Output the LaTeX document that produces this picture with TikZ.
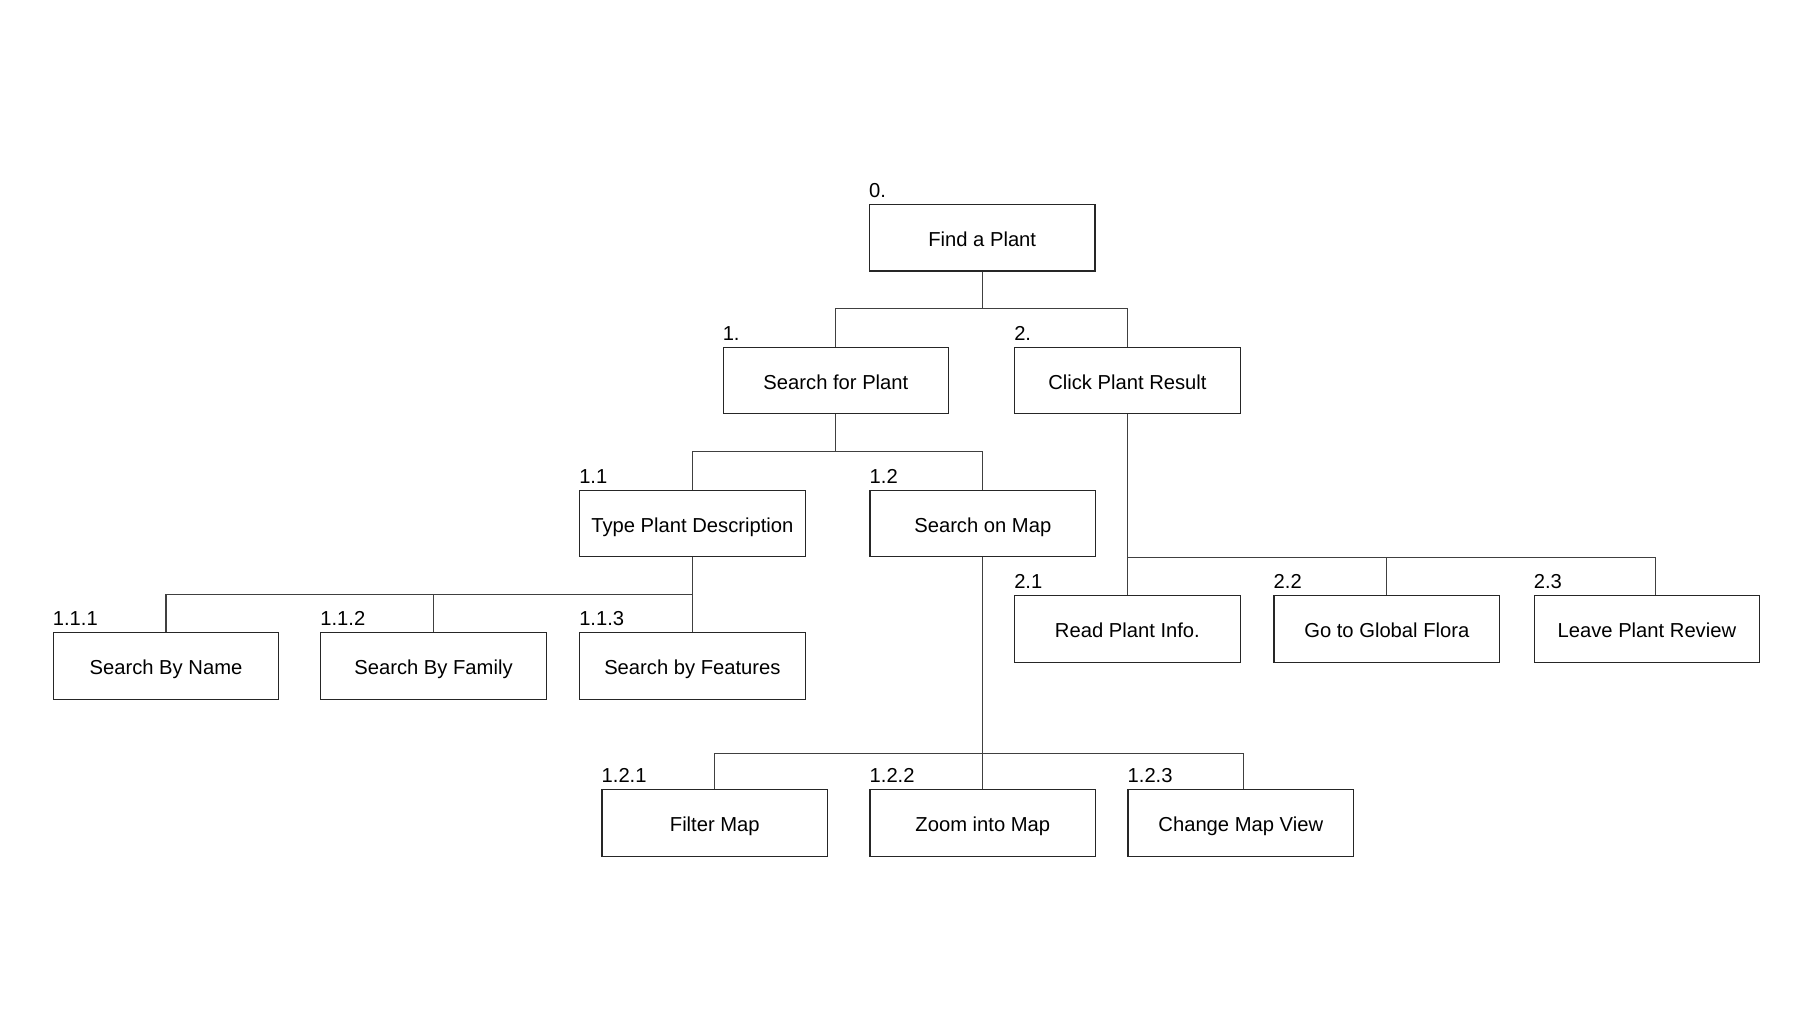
\documentclass[tikz,border=0pt]{standalone}
\usepackage{fontspec}
\setmainfont{Liberation Sans}
\begin{document}
\begin{tikzpicture}[x=1pt,y=-1pt,
  box/.style={draw=black!85, line width=1.1pt, fill=white, minimum width=225.6pt, minimum height=66.5pt, inner sep=0pt, text height=17pt, text depth=0pt, font=\fontsize{20.2}{24}\selectfont, text=black},
  num/.style={anchor=base west, inner sep=0pt, font=\fontsize{20.2}{24}\selectfont, text=black},
  link/.style={draw=black!75, line width=1.1pt}]
\useasboundingbox[fill=white] (0,0) rectangle (1814,1033);
% nodes
\node[box] (n0)   at (982.2,237.7) {Find a Plant};
\node[box] (n1)   at (835.9,380.6) {Search for Plant};
\node[box] (n2)   at (1127.4,380.6) {Click Plant Result};
\node[box] (n11)  at (692.4,523.5) {Type Plant Description};
\node[box] (n12)  at (982.8,523.5) {Search on Map};
\node[box] (n111) at (166.0,665.8) {Search By Name};
\node[box] (n112) at (433.5,665.8) {Search By Family};
\node[box] (n113) at (692.4,665.8) {Search by Features};
\node[box] (n21)  at (1127.4,628.8) {Read Plant Info.};
\node[box] (n22)  at (1386.8,628.8) {Go to Global Flora};
\node[box] (n23)  at (1646.9,628.8) {Leave Plant Review};
\node[box] (n121) at (714.8,823.1) {Filter Map};
\node[box] (n122) at (982.8,823.1) {Zoom into Map};
\node[box] (n123) at (1240.8,823.1) {Change Map View};
% number labels
\node[num] (l0)   at ([yshift=6.5pt]n0.north west)   {0.};
\node[num] (l1)   at ([yshift=6.5pt]n1.north west)   {1.};
\node[num] (l2)   at ([yshift=6.5pt]n2.north west)   {2.};
\node[num] (l11)  at ([yshift=6.5pt]n11.north west)  {1.1};
\node[num] (l12)  at ([yshift=6.5pt]n12.north west)  {1.2};
\node[num] (l111) at ([yshift=6.5pt]n111.north west) {1.1.1};
\node[num] (l112) at ([yshift=6.5pt]n112.north west) {1.1.2};
\node[num] (l113) at ([yshift=6.5pt]n113.north west) {1.1.3};
\node[num] (l21)  at ([yshift=6.5pt]n21.north west)  {2.1};
\node[num] (l22)  at ([yshift=6.5pt]n22.north west)  {2.2};
\node[num] (l23)  at ([yshift=6.5pt]n23.north west)  {2.3};
\node[num] (l121) at ([yshift=6.5pt]n121.north west) {1.2.1};
\node[num] (l122) at ([yshift=6.5pt]n122.north west) {1.2.2};
\node[num] (l123) at ([yshift=6.5pt]n123.north west) {1.2.3};
% bus coordinates
\coordinate (b0)  at (982.2,308.9);
\coordinate (b1)  at (835.9,451.2);
\coordinate (b11) at (692.4,594.6);
\coordinate (b12) at (982.8,753.1);
\coordinate (b2)  at (1127.4,557.6);
% connectors
\draw[link] (n0.south) -- (b0);
\draw[link] (n1.north) |- (b0) -| (n2.north);
\draw[link] (n1.south) -- (b1);
\draw[link] (n11.north) |- (b1) -| (n12.north);
\draw[link] (n11.south) -- (b11);
\draw[link] (n111.north) |- (b11) -- (n113.north);
\draw[link] (n112.north) -- (n112.north |- b11);
\draw[link] (n12.south) -- (b12);
\draw[link] (n121.north) |- (b12) -| ([xshift=2.5pt]n123.north);
\draw[link] (n122.north) -- (b12);
\draw[link] (n2.south) -- (b2);
\draw[link] (n21.north) -- (b2) -| ([xshift=9pt]n23.north);
\draw[link] (n22.north) -- (n22.north |- b2);
\end{tikzpicture}
\end{document}
